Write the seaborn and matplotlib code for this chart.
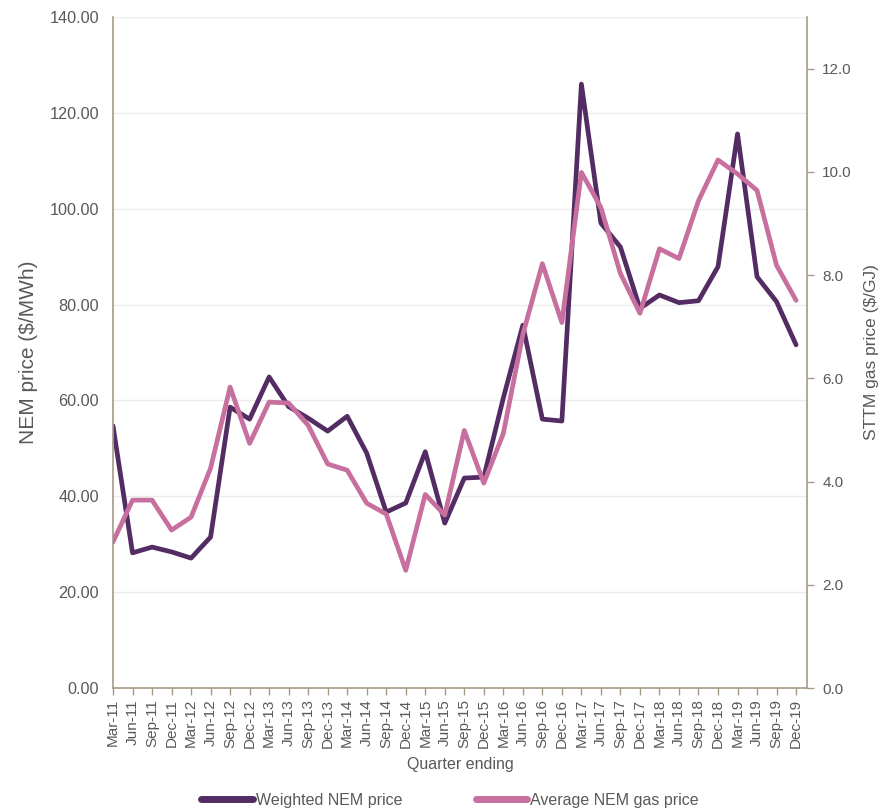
import numpy as np
import pandas as pd
import seaborn as sns
import matplotlib.pyplot as plt
import matplotlib.ticker as ticker

# quarter labels
quarters = ['Mar-11', 'Jun-11', 'Sep-11', 'Dec-11', 'Mar-12', 'Jun-12', 'Sep-12', 'Dec-12',
            'Mar-13', 'Jun-13', 'Sep-13', 'Dec-13', 'Mar-14', 'Jun-14', 'Sep-14', 'Dec-14',
            'Mar-15', 'Jun-15', 'Sep-15', 'Dec-15', 'Mar-16', 'Jun-16', 'Sep-16', 'Dec-16',
            'Mar-17', 'Jun-17', 'Sep-17', 'Dec-17', 'Mar-18', 'Jun-18', 'Sep-18', 'Dec-18',
            'Mar-19', 'Jun-19', 'Sep-19', 'Dec-19']

# weighted NEM price ($/MWh), left axis
nem_price = [54.7, 28.2, 29.4, 28.4, 27.1, 31.5, 58.6, 56.1,
             64.9, 58.7, 56.3, 53.6, 56.7, 49.0, 36.7, 38.6,
             49.3, 34.4, 43.8, 44.0, 60.5, 75.7, 56.1, 55.7,
             126.0, 97.0, 92.0, 79.2, 82.0, 80.4, 80.8, 87.9,
             115.6, 85.8, 80.6, 71.6]

# average NEM gas price ($/GJ), right axis
gas_price = [2.83, 3.64, 3.64, 3.06, 3.31, 4.26, 5.83, 4.74,
             5.54, 5.52, 5.09, 4.34, 4.22, 3.58, 3.37, 2.28,
             3.75, 3.35, 4.99, 3.97, 4.93, 6.85, 8.22, 7.08,
             9.99, 9.31, 8.03, 7.26, 8.51, 8.32, 9.44, 10.23,
             9.96, 9.64, 8.19, 7.51]

df = pd.DataFrame({'pos': np.arange(len(quarters)), 'quarter': quarters,
                   'nem': nem_price, 'gas': gas_price})

sns.set_style('white')
plt.rcParams['font.family'] = ['Liberation Sans', 'DejaVu Sans']

purple = '#532C63'
pink = '#C7709F'
spine_col = '#A59A88'
text_col = '#595959'

fig = plt.figure(figsize=(8.93, 8.11), dpi=100)
ax = fig.add_axes([113 / 893, 1 - 688 / 811, (807 - 113) / 893, (688 - 17) / 811])
ax2 = ax.twinx()

sns.lineplot(data=df, x='pos', y='nem', ax=ax, color=purple, lw=3.4,
             label='Weighted NEM price', legend=False)
sns.lineplot(data=df, x='pos', y='gas', ax=ax2, color=pink, lw=3.4,
             label='Average NEM gas price', legend=False)

ax.set_xlim(0, len(quarters) - 1 + 0.56)
ax.set_ylim(0, 140)
ax2.set_ylim(0, 13)

ax.set_xticks(df['pos'])
ax.set_xticklabels(quarters, rotation=90, fontsize=11, color=text_col)
ax.yaxis.set_major_locator(ticker.MultipleLocator(20))
ax.yaxis.set_major_formatter(ticker.FormatStrFormatter('%.2f'))
ax2.yaxis.set_major_locator(ticker.FixedLocator([0, 2, 4, 6, 8, 10, 12]))
ax2.yaxis.set_major_formatter(ticker.FormatStrFormatter('%.1f'))

ax.tick_params(axis='x', bottom=True, length=5, width=1, color=spine_col, pad=3)
ax.tick_params(axis='y', left=False, length=0, labelsize=11.7, labelcolor=text_col, pad=10)
ax2.tick_params(axis='y', right=True, length=5, width=1, color=spine_col,
                labelsize=11, labelcolor=text_col, pad=6)

ax.grid(axis='y', color='#EBEBEB', lw=1)
ax.set_axisbelow(True)

for a in (ax, ax2):
    a.spines['top'].set_visible(False)
    for s in ('left', 'right', 'bottom'):
        a.spines[s].set_color(spine_col)
        a.spines[s].set_linewidth(1.2)
ax.spines['right'].set_visible(False)
ax2.spines['left'].set_visible(False)
ax2.spines['bottom'].set_visible(False)

ax.set_xlabel('Quarter ending', fontsize=11.5, color=text_col, labelpad=6)
ax.set_ylabel('NEM price ($/MWh)', fontsize=15, color=text_col, labelpad=8)
ax2.set_ylabel('STTM gas price ($/GJ)', fontsize=12.5, color=text_col, labelpad=9)

h1, l1 = ax.get_legend_handles_labels()
h2, l2 = ax2.get_legend_handles_labels()
leg = fig.legend(h1 + h2, l1 + l2, loc='center', bbox_to_anchor=(450 / 893, 1 - 800 / 811),
                 ncol=2, frameon=False, fontsize=11.5, handlelength=3.2,
                 handletextpad=0.2, columnspacing=4.6)
for t in leg.get_texts():
    t.set_color(text_col)
for h in leg.get_lines():
    h.set_linewidth(5)
    h.set_solid_capstyle('round')

fig.savefig('out.png', dpi=100)
